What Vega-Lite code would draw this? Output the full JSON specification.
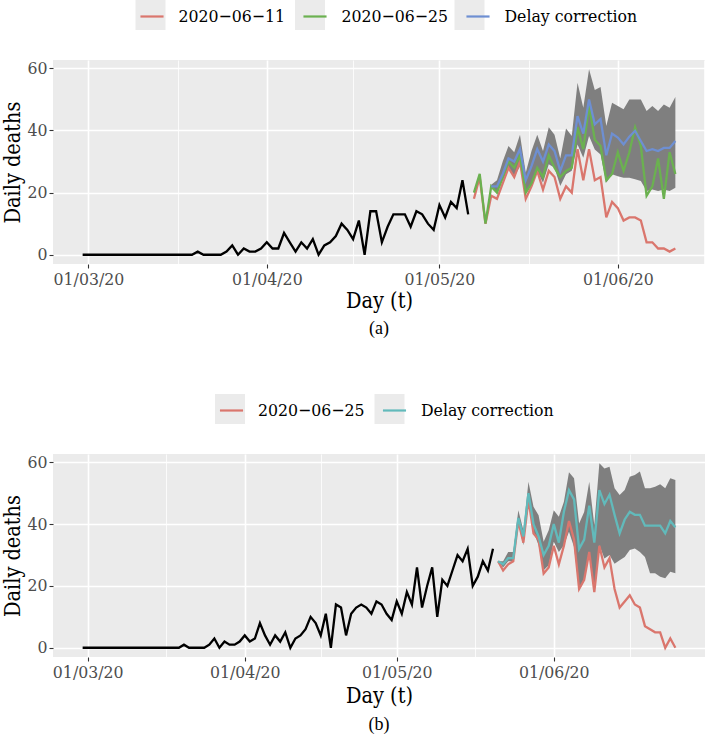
{
  "$schema": "https://vega.github.io/schema/vega-lite/v6.json",
  "background": "white",
  "padding": {"left": 2, "top": 0, "right": 0, "bottom": 0},
  "spacing": 56,
  "config": {
    "view": {"fill": "#EBEBEB", "stroke": null},
    "font": "DejaVu Serif Condensed",
    "axis": {
      "domain": false, "tickColor": "#333333", "tickSize": 4, "tickWidth": 1.1,
      "labelColor": "#4D4D4D", "labelFont": "DejaVu Serif Condensed", "labelFontSize": 17.5, "labelPadding": 2,
      "titleFont": "DejaVu Serif Condensed", "titleFontSize": 21.5, "titleFontWeight": "normal", "titleColor": "#000000",
      "gridColor": "#FFFFFF", "labelOverlap": false, "labelFlush": false
    },
    "legend": {
      "orient": "none", "direction": "horizontal", "padding": 0, "symbolSize": 900,
      "labelFont": "DejaVu Serif Condensed", "labelFontSize": 17.5, "labelColor": "#000000",
      "labelOffset": 10, "columnPadding": 13, "labelLimit": 400, "rowPadding": 0
    },
    "title": {"font": "Liberation Serif", "fontSize": 18, "fontWeight": "normal", "color": "#000000"}
  },
  "resolve": {
    "scale": {"x": "independent", "y": "independent", "stroke": "independent", "fill": "independent"},
    "legend": {"stroke": "independent", "fill": "independent"}
  },
  "datasets": {
    "a_obs": [
      {"date":"2020-02-29","deaths":0},{"date":"2020-03-01","deaths":0},{"date":"2020-03-02","deaths":0},{"date":"2020-03-03","deaths":0},{"date":"2020-03-04","deaths":0},{"date":"2020-03-05","deaths":0},{"date":"2020-03-06","deaths":0},{"date":"2020-03-07","deaths":0},{"date":"2020-03-08","deaths":0},{"date":"2020-03-09","deaths":0},{"date":"2020-03-10","deaths":0},{"date":"2020-03-11","deaths":0},{"date":"2020-03-12","deaths":0},{"date":"2020-03-13","deaths":0},{"date":"2020-03-14","deaths":0},{"date":"2020-03-15","deaths":0},{"date":"2020-03-16","deaths":0},{"date":"2020-03-17","deaths":0},{"date":"2020-03-18","deaths":0},{"date":"2020-03-19","deaths":0},
      {"date":"2020-03-20","deaths":1},{"date":"2020-03-21","deaths":0},{"date":"2020-03-22","deaths":0},{"date":"2020-03-23","deaths":0},{"date":"2020-03-24","deaths":0},{"date":"2020-03-25","deaths":1},{"date":"2020-03-26","deaths":3},{"date":"2020-03-27","deaths":0},{"date":"2020-03-28","deaths":2},{"date":"2020-03-29","deaths":1},{"date":"2020-03-30","deaths":1},{"date":"2020-03-31","deaths":2},
      {"date":"2020-04-01","deaths":4},{"date":"2020-04-02","deaths":2},{"date":"2020-04-03","deaths":2},{"date":"2020-04-04","deaths":7},{"date":"2020-04-05","deaths":4},{"date":"2020-04-06","deaths":1},{"date":"2020-04-07","deaths":4},{"date":"2020-04-08","deaths":2},{"date":"2020-04-09","deaths":5},{"date":"2020-04-10","deaths":0},{"date":"2020-04-11","deaths":3},{"date":"2020-04-12","deaths":4},{"date":"2020-04-13","deaths":6},{"date":"2020-04-14","deaths":10},{"date":"2020-04-15","deaths":8},{"date":"2020-04-16","deaths":5},{"date":"2020-04-17","deaths":11},{"date":"2020-04-18","deaths":0},{"date":"2020-04-19","deaths":14},{"date":"2020-04-20","deaths":14},{"date":"2020-04-21","deaths":4},{"date":"2020-04-22","deaths":9},{"date":"2020-04-23","deaths":13},{"date":"2020-04-24","deaths":13},{"date":"2020-04-25","deaths":13},{"date":"2020-04-26","deaths":9},{"date":"2020-04-27","deaths":14},{"date":"2020-04-28","deaths":13},{"date":"2020-04-29","deaths":10},{"date":"2020-04-30","deaths":8},
      {"date":"2020-05-01","deaths":16},{"date":"2020-05-02","deaths":12},{"date":"2020-05-03","deaths":17},{"date":"2020-05-04","deaths":15},{"date":"2020-05-05","deaths":24},{"date":"2020-05-06","deaths":13}
    ],
    "a_lines": [
      {"date":"2020-05-07","series":"2020−06−11","deaths":18},{"date":"2020-05-08","series":"2020−06−11","deaths":25},{"date":"2020-05-09","series":"2020−06−11","deaths":10},{"date":"2020-05-10","series":"2020−06−11","deaths":19},{"date":"2020-05-11","series":"2020−06−11","deaths":18},{"date":"2020-05-12","series":"2020−06−11","deaths":23},{"date":"2020-05-13","series":"2020−06−11","deaths":28},{"date":"2020-05-14","series":"2020−06−11","deaths":25},{"date":"2020-05-15","series":"2020−06−11","deaths":30},{"date":"2020-05-16","series":"2020−06−11","deaths":18},{"date":"2020-05-17","series":"2020−06−11","deaths":22},{"date":"2020-05-18","series":"2020−06−11","deaths":27},{"date":"2020-05-19","series":"2020−06−11","deaths":21},{"date":"2020-05-20","series":"2020−06−11","deaths":27},{"date":"2020-05-21","series":"2020−06−11","deaths":25},{"date":"2020-05-22","series":"2020−06−11","deaths":18},{"date":"2020-05-23","series":"2020−06−11","deaths":22},{"date":"2020-05-24","series":"2020−06−11","deaths":20},{"date":"2020-05-25","series":"2020−06−11","deaths":34},{"date":"2020-05-26","series":"2020−06−11","deaths":24},{"date":"2020-05-27","series":"2020−06−11","deaths":34},{"date":"2020-05-28","series":"2020−06−11","deaths":24},{"date":"2020-05-29","series":"2020−06−11","deaths":25},{"date":"2020-05-30","series":"2020−06−11","deaths":12},{"date":"2020-05-31","series":"2020−06−11","deaths":17},{"date":"2020-06-01","series":"2020−06−11","deaths":15},{"date":"2020-06-02","series":"2020−06−11","deaths":11},{"date":"2020-06-03","series":"2020−06−11","deaths":12},{"date":"2020-06-04","series":"2020−06−11","deaths":12},{"date":"2020-06-05","series":"2020−06−11","deaths":11},{"date":"2020-06-06","series":"2020−06−11","deaths":4},{"date":"2020-06-07","series":"2020−06−11","deaths":4},{"date":"2020-06-08","series":"2020−06−11","deaths":2},{"date":"2020-06-09","series":"2020−06−11","deaths":2},{"date":"2020-06-10","series":"2020−06−11","deaths":1},{"date":"2020-06-11","series":"2020−06−11","deaths":2},
      {"date":"2020-05-07","series":"2020−06−25","deaths":20},{"date":"2020-05-08","series":"2020−06−25","deaths":26},{"date":"2020-05-09","series":"2020−06−25","deaths":10},{"date":"2020-05-10","series":"2020−06−25","deaths":22},{"date":"2020-05-11","series":"2020−06−25","deaths":20},{"date":"2020-05-12","series":"2020−06−25","deaths":25},{"date":"2020-05-13","series":"2020−06−25","deaths":30},{"date":"2020-05-14","series":"2020−06−25","deaths":28},{"date":"2020-05-15","series":"2020−06−25","deaths":32},{"date":"2020-05-16","series":"2020−06−25","deaths":20},{"date":"2020-05-17","series":"2020−06−25","deaths":23},{"date":"2020-05-18","series":"2020−06−25","deaths":28},{"date":"2020-05-19","series":"2020−06−25","deaths":25},{"date":"2020-05-20","series":"2020−06−25","deaths":32},{"date":"2020-05-21","series":"2020−06−25","deaths":28},{"date":"2020-05-22","series":"2020−06−25","deaths":25},{"date":"2020-05-23","series":"2020−06−25","deaths":27},{"date":"2020-05-24","series":"2020−06−25","deaths":28},{"date":"2020-05-25","series":"2020−06−25","deaths":41},{"date":"2020-05-26","series":"2020−06−25","deaths":34},{"date":"2020-05-27","series":"2020−06−25","deaths":48},{"date":"2020-05-28","series":"2020−06−25","deaths":37},{"date":"2020-05-29","series":"2020−06−25","deaths":35},{"date":"2020-05-30","series":"2020−06−25","deaths":24},{"date":"2020-05-31","series":"2020−06−25","deaths":26},{"date":"2020-06-01","series":"2020−06−25","deaths":33},{"date":"2020-06-02","series":"2020−06−25","deaths":27},{"date":"2020-06-03","series":"2020−06−25","deaths":33},{"date":"2020-06-04","series":"2020−06−25","deaths":41},{"date":"2020-06-05","series":"2020−06−25","deaths":35},{"date":"2020-06-06","series":"2020−06−25","deaths":19},{"date":"2020-06-07","series":"2020−06−25","deaths":22},{"date":"2020-06-08","series":"2020−06−25","deaths":31},{"date":"2020-06-09","series":"2020−06−25","deaths":18},{"date":"2020-06-10","series":"2020−06−25","deaths":33},{"date":"2020-06-11","series":"2020−06−25","deaths":26},
      {"date":"2020-05-10","series":"Delay correction","deaths":22},{"date":"2020-05-11","series":"Delay correction","deaths":22},{"date":"2020-05-12","series":"Delay correction","deaths":26},{"date":"2020-05-13","series":"Delay correction","deaths":31},{"date":"2020-05-14","series":"Delay correction","deaths":30},{"date":"2020-05-15","series":"Delay correction","deaths":34},{"date":"2020-05-16","series":"Delay correction","deaths":24},{"date":"2020-05-17","series":"Delay correction","deaths":28.5},{"date":"2020-05-18","series":"Delay correction","deaths":34},{"date":"2020-05-19","series":"Delay correction","deaths":30},{"date":"2020-05-20","series":"Delay correction","deaths":35.5},{"date":"2020-05-21","series":"Delay correction","deaths":33.4},{"date":"2020-05-22","series":"Delay correction","deaths":27},{"date":"2020-05-23","series":"Delay correction","deaths":32},{"date":"2020-05-24","series":"Delay correction","deaths":32},{"date":"2020-05-25","series":"Delay correction","deaths":44.6},{"date":"2020-05-26","series":"Delay correction","deaths":39},{"date":"2020-05-27","series":"Delay correction","deaths":50},{"date":"2020-05-28","series":"Delay correction","deaths":42},{"date":"2020-05-29","series":"Delay correction","deaths":43.7},{"date":"2020-05-30","series":"Delay correction","deaths":32},{"date":"2020-05-31","series":"Delay correction","deaths":39},{"date":"2020-06-01","series":"Delay correction","deaths":37.7},{"date":"2020-06-02","series":"Delay correction","deaths":35.5},{"date":"2020-06-03","series":"Delay correction","deaths":38},{"date":"2020-06-04","series":"Delay correction","deaths":39.9},{"date":"2020-06-05","series":"Delay correction","deaths":36.6},{"date":"2020-06-06","series":"Delay correction","deaths":33.4},{"date":"2020-06-07","series":"Delay correction","deaths":34},{"date":"2020-06-08","series":"Delay correction","deaths":33.4},{"date":"2020-06-09","series":"Delay correction","deaths":34.4},{"date":"2020-06-10","series":"Delay correction","deaths":34.4},{"date":"2020-06-11","series":"Delay correction","deaths":36.6}
    ],
    "a_band": [
      {"date":"2020-05-10","lo":21.5,"hi":22.5},{"date":"2020-05-11","lo":20,"hi":24},{"date":"2020-05-12","lo":24,"hi":30},{"date":"2020-05-13","lo":27.5,"hi":35},{"date":"2020-05-14","lo":25,"hi":33},{"date":"2020-05-15","lo":28.5,"hi":38.6},{"date":"2020-05-16","lo":19.4,"hi":26.4},{"date":"2020-05-17","lo":22.6,"hi":33.4},{"date":"2020-05-18","lo":26.9,"hi":38.6},{"date":"2020-05-19","lo":23.2,"hi":33.4},{"date":"2020-05-20","lo":29.1,"hi":41},{"date":"2020-05-21","lo":28,"hi":38.6},{"date":"2020-05-22","lo":22.1,"hi":31},{"date":"2020-05-23","lo":25.9,"hi":40.6},{"date":"2020-05-24","lo":27,"hi":38.2},{"date":"2020-05-25","lo":35.5,"hi":55.4},{"date":"2020-05-26","lo":31.2,"hi":47.3},{"date":"2020-05-27","lo":38.2,"hi":59.7},{"date":"2020-05-28","lo":33.9,"hi":53},{"date":"2020-05-29","lo":32.3,"hi":54},{"date":"2020-05-30","lo":23.2,"hi":41.4},{"date":"2020-05-31","lo":25.9,"hi":48.9},{"date":"2020-06-01","lo":25.3,"hi":47.9},{"date":"2020-06-02","lo":24.8,"hi":46.8},{"date":"2020-06-03","lo":24.8,"hi":50},{"date":"2020-06-04","lo":24.3,"hi":50},{"date":"2020-06-05","lo":23.7,"hi":50},{"date":"2020-06-06","lo":20.5,"hi":46.3},{"date":"2020-06-07","lo":21,"hi":47.9},{"date":"2020-06-08","lo":20.5,"hi":46.3},{"date":"2020-06-09","lo":21,"hi":48.4},{"date":"2020-06-10","lo":20.5,"hi":47.3},{"date":"2020-06-11","lo":21.6,"hi":50.8}
    ],
    "b_obs": [
      {"date":"2020-02-29","deaths":0},{"date":"2020-03-01","deaths":0},{"date":"2020-03-02","deaths":0},{"date":"2020-03-03","deaths":0},{"date":"2020-03-04","deaths":0},{"date":"2020-03-05","deaths":0},{"date":"2020-03-06","deaths":0},{"date":"2020-03-07","deaths":0},{"date":"2020-03-08","deaths":0},{"date":"2020-03-09","deaths":0},{"date":"2020-03-10","deaths":0},{"date":"2020-03-11","deaths":0},{"date":"2020-03-12","deaths":0},{"date":"2020-03-13","deaths":0},{"date":"2020-03-14","deaths":0},{"date":"2020-03-15","deaths":0},{"date":"2020-03-16","deaths":0},{"date":"2020-03-17","deaths":0},{"date":"2020-03-18","deaths":0},{"date":"2020-03-19","deaths":0},
      {"date":"2020-03-20","deaths":1},{"date":"2020-03-21","deaths":0},{"date":"2020-03-22","deaths":0},{"date":"2020-03-23","deaths":0},{"date":"2020-03-24","deaths":0},{"date":"2020-03-25","deaths":1},{"date":"2020-03-26","deaths":3},{"date":"2020-03-27","deaths":0},{"date":"2020-03-28","deaths":2},{"date":"2020-03-29","deaths":1},{"date":"2020-03-30","deaths":1},{"date":"2020-03-31","deaths":2},
      {"date":"2020-04-01","deaths":4},{"date":"2020-04-02","deaths":2},{"date":"2020-04-03","deaths":3},{"date":"2020-04-04","deaths":8},{"date":"2020-04-05","deaths":4},{"date":"2020-04-06","deaths":1},{"date":"2020-04-07","deaths":4},{"date":"2020-04-08","deaths":2},{"date":"2020-04-09","deaths":5},{"date":"2020-04-10","deaths":0},{"date":"2020-04-11","deaths":3},{"date":"2020-04-12","deaths":4},{"date":"2020-04-13","deaths":6},{"date":"2020-04-14","deaths":10},{"date":"2020-04-15","deaths":8},{"date":"2020-04-16","deaths":4},{"date":"2020-04-17","deaths":11},{"date":"2020-04-18","deaths":0},{"date":"2020-04-19","deaths":14},{"date":"2020-04-20","deaths":13},{"date":"2020-04-21","deaths":4},{"date":"2020-04-22","deaths":11},{"date":"2020-04-23","deaths":13},{"date":"2020-04-24","deaths":14},{"date":"2020-04-25","deaths":13},{"date":"2020-04-26","deaths":11},{"date":"2020-04-27","deaths":15},{"date":"2020-04-28","deaths":14},{"date":"2020-04-29","deaths":11},{"date":"2020-04-30","deaths":9},
      {"date":"2020-05-01","deaths":15},{"date":"2020-05-02","deaths":11},{"date":"2020-05-03","deaths":18},{"date":"2020-05-04","deaths":14},{"date":"2020-05-05","deaths":26},{"date":"2020-05-06","deaths":13},{"date":"2020-05-07","deaths":20},{"date":"2020-05-08","deaths":26},{"date":"2020-05-09","deaths":10},{"date":"2020-05-10","deaths":22},{"date":"2020-05-11","deaths":20},{"date":"2020-05-12","deaths":25},{"date":"2020-05-13","deaths":30},{"date":"2020-05-14","deaths":28},{"date":"2020-05-15","deaths":32},{"date":"2020-05-16","deaths":20},{"date":"2020-05-17","deaths":23},{"date":"2020-05-18","deaths":28},{"date":"2020-05-19","deaths":25},{"date":"2020-05-20","deaths":32}
    ],
    "b_lines": [
      {"date":"2020-05-21","series":"2020−06−25","deaths":28},{"date":"2020-05-22","series":"2020−06−25","deaths":25},{"date":"2020-05-23","series":"2020−06−25","deaths":27},{"date":"2020-05-24","series":"2020−06−25","deaths":28},{"date":"2020-05-25","series":"2020−06−25","deaths":41},{"date":"2020-05-26","series":"2020−06−25","deaths":34},{"date":"2020-05-27","series":"2020−06−25","deaths":48},{"date":"2020-05-28","series":"2020−06−25","deaths":37},{"date":"2020-05-29","series":"2020−06−25","deaths":35},{"date":"2020-05-30","series":"2020−06−25","deaths":24},{"date":"2020-05-31","series":"2020−06−25","deaths":26},{"date":"2020-06-01","series":"2020−06−25","deaths":33},{"date":"2020-06-02","series":"2020−06−25","deaths":27},{"date":"2020-06-03","series":"2020−06−25","deaths":33},{"date":"2020-06-04","series":"2020−06−25","deaths":41},{"date":"2020-06-05","series":"2020−06−25","deaths":35},{"date":"2020-06-06","series":"2020−06−25","deaths":19},{"date":"2020-06-07","series":"2020−06−25","deaths":22},{"date":"2020-06-08","series":"2020−06−25","deaths":31},{"date":"2020-06-09","series":"2020−06−25","deaths":18},{"date":"2020-06-10","series":"2020−06−25","deaths":33},{"date":"2020-06-11","series":"2020−06−25","deaths":26},{"date":"2020-06-12","series":"2020−06−25","deaths":29},{"date":"2020-06-13","series":"2020−06−25","deaths":19},{"date":"2020-06-14","series":"2020−06−25","deaths":13},{"date":"2020-06-15","series":"2020−06−25","deaths":15},{"date":"2020-06-16","series":"2020−06−25","deaths":17},{"date":"2020-06-17","series":"2020−06−25","deaths":14},{"date":"2020-06-18","series":"2020−06−25","deaths":13},{"date":"2020-06-19","series":"2020−06−25","deaths":7},{"date":"2020-06-20","series":"2020−06−25","deaths":6},{"date":"2020-06-21","series":"2020−06−25","deaths":5},{"date":"2020-06-22","series":"2020−06−25","deaths":5},{"date":"2020-06-23","series":"2020−06−25","deaths":0},{"date":"2020-06-24","series":"2020−06−25","deaths":3},{"date":"2020-06-25","series":"2020−06−25","deaths":0},
      {"date":"2020-05-21","series":"Delay correction","deaths":28},{"date":"2020-05-22","series":"Delay correction","deaths":27},{"date":"2020-05-23","series":"Delay correction","deaths":29},{"date":"2020-05-24","series":"Delay correction","deaths":29},{"date":"2020-05-25","series":"Delay correction","deaths":42},{"date":"2020-05-26","series":"Delay correction","deaths":36},{"date":"2020-05-27","series":"Delay correction","deaths":50},{"date":"2020-05-28","series":"Delay correction","deaths":40},{"date":"2020-05-29","series":"Delay correction","deaths":36},{"date":"2020-05-30","series":"Delay correction","deaths":30},{"date":"2020-05-31","series":"Delay correction","deaths":33},{"date":"2020-06-01","series":"Delay correction","deaths":40},{"date":"2020-06-02","series":"Delay correction","deaths":34},{"date":"2020-06-03","series":"Delay correction","deaths":44},{"date":"2020-06-04","series":"Delay correction","deaths":51},{"date":"2020-06-05","series":"Delay correction","deaths":48},{"date":"2020-06-06","series":"Delay correction","deaths":32},{"date":"2020-06-07","series":"Delay correction","deaths":35},{"date":"2020-06-08","series":"Delay correction","deaths":46},{"date":"2020-06-09","series":"Delay correction","deaths":34},{"date":"2020-06-10","series":"Delay correction","deaths":51},{"date":"2020-06-11","series":"Delay correction","deaths":46.5},{"date":"2020-06-12","series":"Delay correction","deaths":49.5},{"date":"2020-06-13","series":"Delay correction","deaths":43},{"date":"2020-06-14","series":"Delay correction","deaths":37},{"date":"2020-06-15","series":"Delay correction","deaths":41.5},{"date":"2020-06-16","series":"Delay correction","deaths":44},{"date":"2020-06-17","series":"Delay correction","deaths":43},{"date":"2020-06-18","series":"Delay correction","deaths":43},{"date":"2020-06-19","series":"Delay correction","deaths":39.5},{"date":"2020-06-20","series":"Delay correction","deaths":39.5},{"date":"2020-06-21","series":"Delay correction","deaths":39.5},{"date":"2020-06-22","series":"Delay correction","deaths":39.5},{"date":"2020-06-23","series":"Delay correction","deaths":37},{"date":"2020-06-24","series":"Delay correction","deaths":41},{"date":"2020-06-25","series":"Delay correction","deaths":39}
    ],
    "b_band": [
      {"date":"2020-05-21","lo":28,"hi":28},{"date":"2020-05-22","lo":26,"hi":28},{"date":"2020-05-23","lo":28,"hi":31},{"date":"2020-05-24","lo":28,"hi":31},{"date":"2020-05-25","lo":40.2,"hi":44.5},{"date":"2020-05-26","lo":33.2,"hi":38},{"date":"2020-05-27","lo":46.7,"hi":53.7},{"date":"2020-05-28","lo":37.5,"hi":45.6},{"date":"2020-05-29","lo":33.2,"hi":42.9},{"date":"2020-05-30","lo":25.1,"hi":34.3},{"date":"2020-05-31","lo":26.7,"hi":38},{"date":"2020-06-01","lo":34.3,"hi":44.5},{"date":"2020-06-02","lo":31,"hi":42.4},{"date":"2020-06-03","lo":33.2,"hi":47.2},{"date":"2020-06-04","lo":37.5,"hi":56.8},{"date":"2020-06-05","lo":32.6,"hi":54.8},{"date":"2020-06-06","lo":18.6,"hi":40.2},{"date":"2020-06-07","lo":21.8,"hi":43.9},{"date":"2020-06-08","lo":31,"hi":53.7},{"date":"2020-06-09","lo":18,"hi":39.7},{"date":"2020-06-10","lo":33.2,"hi":59.7},{"date":"2020-06-11","lo":28.9,"hi":58},{"date":"2020-06-12","lo":30,"hi":58.6},{"date":"2020-06-13","lo":27.2,"hi":51.6},{"date":"2020-06-14","lo":28.3,"hi":49.4},{"date":"2020-06-15","lo":29.4,"hi":51},{"date":"2020-06-16","lo":31.6,"hi":55.3},{"date":"2020-06-17","lo":32.1,"hi":55.9},{"date":"2020-06-18","lo":31,"hi":57},{"date":"2020-06-19","lo":29.4,"hi":51.6},{"date":"2020-06-20","lo":24.1,"hi":51.6},{"date":"2020-06-21","lo":24.1,"hi":52.1},{"date":"2020-06-22","lo":23,"hi":52.9},{"date":"2020-06-23","lo":22.5,"hi":51.6},{"date":"2020-06-24","lo":24.6,"hi":54.8},{"date":"2020-06-25","lo":24.1,"hi":54.3}
    ]
  },
  "vconcat": [
    {
      "width": 652,
      "height": 204,
      "title": {"text": "(a)", "orient": "bottom", "anchor": "middle", "offset": 8},
      "layer": [
        {
          "data": {"values": [{"key": "2020−06−11"}, {"key": "2020−06−25"}, {"key": "Delay correction"}]},
          "mark": {"type": "square", "size": 0, "opacity": 0},
          "encoding": {
            "fill": {"field": "key", "type": "nominal",
              "scale": {"range": ["#EBEBEB", "#EBEBEB", "#EBEBEB"]},
              "legend": {"legendX": 82.5, "legendY": -60, "title": null, "symbolType": "square", "symbolStrokeWidth": 0, "symbolOpacity": 1, "labelExpr": "''", "labelOffset": 0, "columnPadding": 129.5}}
          }
        },
        {
          "data": {"name": "a_band"},
          "mark": {"type": "area", "color": "#7F7F7F", "opacity": 1},
          "encoding": {
            "x": {"field": "date", "type": "temporal",
              "scale": {"type": "utc", "domain": [1582489440000, 1592278560000], "nice": false},
              "axis": {"title": "Day (t)", "titlePadding": 3, "format": "%d/%m/%y",
                "values": [1583020800000, 1584360000000, 1585699200000, 1586995200000, 1588291200000, 1589630400000, 1590969600000, 1592265600000],
                "labelExpr": "utcdate(datum.value) === 1 ? datum.label : ''",
                "gridWidth": {"condition": {"test": "utcdate(datum.value) !== 1", "value": 0.8}, "value": 1.6},
                "tickOpacity": {"condition": {"test": "utcdate(datum.value) !== 1", "value": 0}, "value": 1}}},
            "y": {"field": "lo", "type": "quantitative",
              "scale": {"domain": [-2.985, 62.685], "nice": false, "zero": false},
              "axis": {"title": "Daily deaths", "titlePadding": 2, "values": [0, 10, 20, 30, 40, 50, 60],
                "labelExpr": "datum.value % 20 === 0 ? datum.label : ''",
                "gridWidth": {"condition": {"test": "datum.value % 20 !== 0", "value": 0.8}, "value": 1.6},
                "tickOpacity": {"condition": {"test": "datum.value % 20 !== 0", "value": 0}, "value": 1}}},
            "y2": {"field": "hi"}
          }
        },
        {
          "data": {"name": "a_lines"},
          "mark": {"type": "line", "strokeWidth": 2.3},
          "encoding": {
            "x": {"field": "date", "type": "temporal"},
            "y": {"field": "deaths", "type": "quantitative"},
            "stroke": {"field": "series", "type": "nominal",
              "scale": {"domain": ["2020−06−11", "2020−06−25", "Delay correction"], "range": ["#DA766D", "#6BB150", "#6E8FD2"]},
              "legend": {"legendX": 82.5, "legendY": -60, "title": null, "symbolType": "M-0.77,0H0.77", "symbolStrokeWidth": 2.2}}
          }
        },
        {
          "data": {"name": "a_obs"},
          "mark": {"type": "line", "color": "#000000", "strokeWidth": 2.3},
          "encoding": {
            "x": {"field": "date", "type": "temporal"},
            "y": {"field": "deaths", "type": "quantitative"}
          }
        }
      ]
    },
    {
      "width": 652,
      "height": 203,
      "title": {"text": "(b)", "orient": "bottom", "anchor": "middle", "offset": 9},
      "layer": [
        {
          "data": {"values": [{"key": "2020−06−25"}, {"key": "Delay correction"}]},
          "mark": {"type": "square", "size": 0, "opacity": 0},
          "encoding": {
            "fill": {"field": "key", "type": "nominal",
              "scale": {"range": ["#EBEBEB", "#EBEBEB"]},
              "legend": {"legendX": 162, "legendY": -60, "title": null, "symbolType": "square", "symbolStrokeWidth": 0, "symbolOpacity": 1, "labelExpr": "''", "labelOffset": 0, "columnPadding": 129.5}}
          }
        },
        {
          "data": {"name": "b_band"},
          "mark": {"type": "area", "color": "#7F7F7F", "opacity": 1},
          "encoding": {
            "x": {"field": "date", "type": "temporal",
              "scale": {"type": "utc", "domain": [1582428960000, 1593548640000], "nice": false},
              "axis": {"title": "Day (t)", "titlePadding": 5, "format": "%d/%m/%y",
                "values": [1583020800000, 1584360000000, 1585699200000, 1586995200000, 1588291200000, 1589630400000, 1590969600000, 1592265600000],
                "labelExpr": "utcdate(datum.value) === 1 ? datum.label : ''",
                "gridWidth": {"condition": {"test": "utcdate(datum.value) !== 1", "value": 0.8}, "value": 1.6},
                "tickOpacity": {"condition": {"test": "utcdate(datum.value) !== 1", "value": 0}, "value": 1}}},
            "y": {"field": "lo", "type": "quantitative",
              "scale": {"domain": [-2.985, 62.685], "nice": false, "zero": false},
              "axis": {"title": "Daily deaths", "titlePadding": 2, "values": [0, 10, 20, 30, 40, 50, 60],
                "labelExpr": "datum.value % 20 === 0 ? datum.label : ''",
                "gridWidth": {"condition": {"test": "datum.value % 20 !== 0", "value": 0.8}, "value": 1.6},
                "tickOpacity": {"condition": {"test": "datum.value % 20 !== 0", "value": 0}, "value": 1}}},
            "y2": {"field": "hi"}
          }
        },
        {
          "data": {"name": "b_lines"},
          "mark": {"type": "line", "strokeWidth": 2.3},
          "encoding": {
            "x": {"field": "date", "type": "temporal"},
            "y": {"field": "deaths", "type": "quantitative"},
            "stroke": {"field": "series", "type": "nominal",
              "scale": {"domain": ["2020−06−25", "Delay correction"], "range": ["#DA766D", "#62BABB"]},
              "legend": {"legendX": 162, "legendY": -60, "title": null, "symbolType": "M-0.77,0H0.77", "symbolStrokeWidth": 2.2}}
          }
        },
        {
          "data": {"name": "b_obs"},
          "mark": {"type": "line", "color": "#000000", "strokeWidth": 2.3},
          "encoding": {
            "x": {"field": "date", "type": "temporal"},
            "y": {"field": "deaths", "type": "quantitative"}
          }
        }
      ]
    }
  ]
}
